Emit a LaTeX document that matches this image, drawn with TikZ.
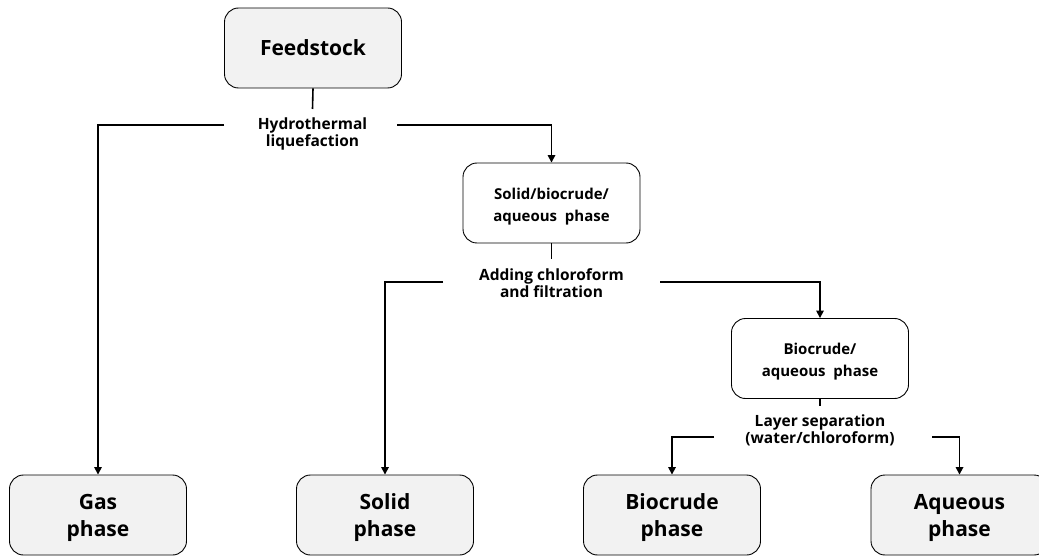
\documentclass[tikz,border=0pt]{standalone}
\usepackage{fontspec}
\setmainfont{Open Sans}
\usetikzlibrary{arrows.meta}
\definecolor{boxgray}{HTML}{F2F2F2}
\newcommand\myBigStrut{\rule{0pt}{22pt}}
\newcommand\myMidStrut{\rule{0pt}{18pt}}
\begin{document}
\begin{tikzpicture}[x=1pt,y=-1pt,
  box/.style={draw=black, line width=0.9pt, rounded corners=14pt, minimum width=177pt, minimum height=80pt, align=center, inner sep=0pt},
  bigbox/.style={box, fill=boxgray, font=\fontsize{21}{27}\selectfont\bfseries},
  midbox/.style={box, fill=white, font=\fontsize{15}{22}\selectfont\bfseries},
  lbl/.style={align=center, inner xsep=0pt, inner ysep=9pt, anchor=north, font=\fontsize{15.5}{17}\selectfont\bfseries},
  conn/.style={line width=1.6pt},
  arr/.style={conn, -{Triangle[length=7.5pt,width=7.5pt]}}
]
\useasboundingbox (0,0) rectangle (1039,556);
% main boxes
\node[bigbox] (feed) at (313,48) {Feedstock};
\node[midbox] (sba) at (551.5,203) {\myMidStrut Solid/biocrude/\\aqueous\ \ phase};
\node[midbox] (bap) at (820,358.5) {\myMidStrut Biocrude/\\aqueous\ \ phase};
\node[bigbox] (gas) at (98,515) {\myBigStrut Gas\\phase};
\node[bigbox] (solid) at (385,515) {\myBigStrut Solid\\phase};
\node[bigbox] (bio) at (672,515) {\myBigStrut Biocrude\\phase};
\node[bigbox] (aq) at (959.5,515) {\myBigStrut Aqueous\\phase};
% process labels
\node[lbl] (hl) at (312.5,109) {Hydrothermal\\liquefaction};
\node[lbl] (ac) at (551.5,259) {Adding chloroform\\and filtration};
\node[lbl] (ls) at (820,406) {Layer separation\\(water/chloroform)};
% branch points
\coordinate (hlL) at (224,125);
\coordinate (hlR) at (397,125);
\coordinate (acL) at (443,282);
\coordinate (acR) at (660,282);
\coordinate (lsL) at (714,437);
\coordinate (lsR) at (932,437);
% connectors
\draw[conn] (feed.south) -- (hl.north);
\draw[conn] (sba.south) -- (ac.north);
\draw[conn] (bap.south) -- (ls.north);
\draw[arr] (hlL) -| (gas.north);
\draw[arr] (hlR) -| (sba.north);
\draw[arr] (acL) -| (solid.north);
\draw[arr] (acR) -| (bap.north);
\draw[arr] (lsL) -| (bio.north);
\draw[arr] (lsR) -| (aq.north);
\end{tikzpicture}
\end{document}
